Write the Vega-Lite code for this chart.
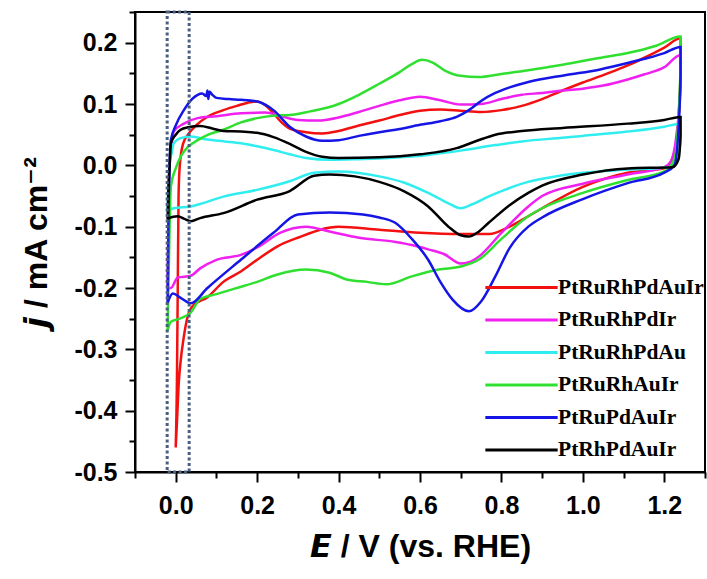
{
  "$schema": "https://vega.github.io/schema/vega-lite/v6.json",
  "width": 570,
  "height": 460,
  "autosize": {"type": "none"},
  "padding": {"left": 135, "top": 12, "right": 2, "bottom": 107},
  "config": {
    "view": {"stroke": "black", "strokeWidth": 2},
    "axis": {"labelFont": "Liberation Sans", "titleFont": "Liberation Sans", "labelFontWeight": "bold", "titleFontWeight": "bold", "labelColor": "black", "titleColor": "black", "domainColor": "black", "tickColor": "black", "domainWidth": 2, "tickWidth": 2, "grid": false},
    "legend": {"orient": "none", "legendX": 369, "legendY": 258, "symbolSize": 1024, "symbolStrokeWidth": 3, "labelFont": "Liberation Serif", "labelFontWeight": "bold", "labelFontSize": 21.5, "labelColor": "black", "labelOffset": 19, "rowPadding": 4.5, "padding": 0, "labelLimit": 300}
  },
  "datasets": {
    "box": [{"x": -0.021, "x2": 0.033, "y": -0.5, "y2": 0.25}],
    "cv": [
      {"s":"PtRuRhPdAuIr","i":1,"E":0.0,"j":-0.46},{"s":"PtRuRhPdAuIr","i":2,"E":0.003,"j":-0.35},{"s":"PtRuRhPdAuIr","i":3,"E":0.005,"j":-0.2},{"s":"PtRuRhPdAuIr","i":4,"E":0.007,"j":-0.05},{"s":"PtRuRhPdAuIr","i":5,"E":0.01,"j":0.0},{"s":"PtRuRhPdAuIr","i":6,"E":0.018,"j":0.035},{"s":"PtRuRhPdAuIr","i":7,"E":0.03,"j":0.05},{"s":"PtRuRhPdAuIr","i":8,"E":0.05,"j":0.065},{"s":"PtRuRhPdAuIr","i":9,"E":0.08,"j":0.08},{"s":"PtRuRhPdAuIr","i":10,"E":0.117,"j":0.09},{"s":"PtRuRhPdAuIr","i":11,"E":0.15,"j":0.097},{"s":"PtRuRhPdAuIr","i":12,"E":0.183,"j":0.103},{"s":"PtRuRhPdAuIr","i":13,"E":0.2,"j":0.104},{"s":"PtRuRhPdAuIr","i":14,"E":0.22,"j":0.098},{"s":"PtRuRhPdAuIr","i":15,"E":0.24,"j":0.085},{"s":"PtRuRhPdAuIr","i":16,"E":0.26,"j":0.07},{"s":"PtRuRhPdAuIr","i":17,"E":0.28,"j":0.06},{"s":"PtRuRhPdAuIr","i":18,"E":0.32,"j":0.054},{"s":"PtRuRhPdAuIr","i":19,"E":0.36,"j":0.052},{"s":"PtRuRhPdAuIr","i":20,"E":0.4,"j":0.056},{"s":"PtRuRhPdAuIr","i":21,"E":0.45,"j":0.065},{"s":"PtRuRhPdAuIr","i":22,"E":0.5,"j":0.073},{"s":"PtRuRhPdAuIr","i":23,"E":0.55,"j":0.082},{"s":"PtRuRhPdAuIr","i":24,"E":0.6,"j":0.089},{"s":"PtRuRhPdAuIr","i":25,"E":0.65,"j":0.091},{"s":"PtRuRhPdAuIr","i":26,"E":0.7,"j":0.089},{"s":"PtRuRhPdAuIr","i":27,"E":0.75,"j":0.087},{"s":"PtRuRhPdAuIr","i":28,"E":0.8,"j":0.09},{"s":"PtRuRhPdAuIr","i":29,"E":0.85,"j":0.097},{"s":"PtRuRhPdAuIr","i":30,"E":0.9,"j":0.108},{"s":"PtRuRhPdAuIr","i":31,"E":0.95,"j":0.122},{"s":"PtRuRhPdAuIr","i":32,"E":1.0,"j":0.135},{"s":"PtRuRhPdAuIr","i":33,"E":1.05,"j":0.147},{"s":"PtRuRhPdAuIr","i":34,"E":1.1,"j":0.16},{"s":"PtRuRhPdAuIr","i":35,"E":1.15,"j":0.175},{"s":"PtRuRhPdAuIr","i":36,"E":1.2,"j":0.192},{"s":"PtRuRhPdAuIr","i":37,"E":1.24,"j":0.207},{"s":"PtRuRhPdAuIr","i":38,"E":1.24,"j":0.15},{"s":"PtRuRhPdAuIr","i":39,"E":1.235,"j":0.08},{"s":"PtRuRhPdAuIr","i":40,"E":1.225,"j":0.02},{"s":"PtRuRhPdAuIr","i":41,"E":1.2,"j":-0.005},{"s":"PtRuRhPdAuIr","i":42,"E":1.11,"j":-0.012},{"s":"PtRuRhPdAuIr","i":43,"E":1.0,"j":-0.035},{"s":"PtRuRhPdAuIr","i":44,"E":0.9,"j":-0.07},{"s":"PtRuRhPdAuIr","i":45,"E":0.866,"j":-0.083},{"s":"PtRuRhPdAuIr","i":46,"E":0.82,"j":-0.1},{"s":"PtRuRhPdAuIr","i":47,"E":0.77,"j":-0.112},{"s":"PtRuRhPdAuIr","i":48,"E":0.7,"j":-0.112},{"s":"PtRuRhPdAuIr","i":49,"E":0.6,"j":-0.11},{"s":"PtRuRhPdAuIr","i":50,"E":0.5,"j":-0.105},{"s":"PtRuRhPdAuIr","i":51,"E":0.4,"j":-0.1},{"s":"PtRuRhPdAuIr","i":52,"E":0.3,"j":-0.118},{"s":"PtRuRhPdAuIr","i":53,"E":0.25,"j":-0.132},{"s":"PtRuRhPdAuIr","i":54,"E":0.2,"j":-0.154},{"s":"PtRuRhPdAuIr","i":55,"E":0.16,"j":-0.173},{"s":"PtRuRhPdAuIr","i":56,"E":0.117,"j":-0.19},{"s":"PtRuRhPdAuIr","i":57,"E":0.078,"j":-0.215},{"s":"PtRuRhPdAuIr","i":58,"E":0.041,"j":-0.23},{"s":"PtRuRhPdAuIr","i":59,"E":0.028,"j":-0.25},{"s":"PtRuRhPdAuIr","i":60,"E":0.02,"j":-0.279},{"s":"PtRuRhPdAuIr","i":61,"E":0.012,"j":-0.32},{"s":"PtRuRhPdAuIr","i":62,"E":0.007,"j":-0.36},{"s":"PtRuRhPdAuIr","i":63,"E":0.003,"j":-0.42},{"s":"PtRuRhPdAuIr","i":64,"E":0.0,"j":-0.46},
      {"s":"PtRuRhPdIr","i":1,"E":-0.02,"j":-0.2},{"s":"PtRuRhPdIr","i":2,"E":-0.018,"j":-0.1},{"s":"PtRuRhPdIr","i":3,"E":-0.015,"j":0.0},{"s":"PtRuRhPdIr","i":4,"E":-0.01,"j":0.035},{"s":"PtRuRhPdIr","i":5,"E":-0.005,"j":0.055},{"s":"PtRuRhPdIr","i":6,"E":0.02,"j":0.068},{"s":"PtRuRhPdIr","i":7,"E":0.054,"j":0.077},{"s":"PtRuRhPdIr","i":8,"E":0.1,"j":0.08},{"s":"PtRuRhPdIr","i":9,"E":0.16,"j":0.085},{"s":"PtRuRhPdIr","i":10,"E":0.22,"j":0.086},{"s":"PtRuRhPdIr","i":11,"E":0.26,"j":0.08},{"s":"PtRuRhPdIr","i":12,"E":0.3,"j":0.074},{"s":"PtRuRhPdIr","i":13,"E":0.35,"j":0.073},{"s":"PtRuRhPdIr","i":14,"E":0.4,"j":0.078},{"s":"PtRuRhPdIr","i":15,"E":0.45,"j":0.087},{"s":"PtRuRhPdIr","i":16,"E":0.5,"j":0.097},{"s":"PtRuRhPdIr","i":17,"E":0.55,"j":0.106},{"s":"PtRuRhPdIr","i":18,"E":0.6,"j":0.112},{"s":"PtRuRhPdIr","i":19,"E":0.65,"j":0.106},{"s":"PtRuRhPdIr","i":20,"E":0.7,"j":0.099},{"s":"PtRuRhPdIr","i":21,"E":0.75,"j":0.1},{"s":"PtRuRhPdIr","i":22,"E":0.8,"j":0.108},{"s":"PtRuRhPdIr","i":23,"E":0.85,"j":0.115},{"s":"PtRuRhPdIr","i":24,"E":0.9,"j":0.118},{"s":"PtRuRhPdIr","i":25,"E":0.95,"j":0.122},{"s":"PtRuRhPdIr","i":26,"E":1.0,"j":0.125},{"s":"PtRuRhPdIr","i":27,"E":1.05,"j":0.13},{"s":"PtRuRhPdIr","i":28,"E":1.11,"j":0.14},{"s":"PtRuRhPdIr","i":29,"E":1.15,"j":0.148},{"s":"PtRuRhPdIr","i":30,"E":1.2,"j":0.16},{"s":"PtRuRhPdIr","i":31,"E":1.24,"j":0.18},{"s":"PtRuRhPdIr","i":32,"E":1.24,"j":0.13},{"s":"PtRuRhPdIr","i":33,"E":1.23,"j":0.05},{"s":"PtRuRhPdIr","i":34,"E":1.215,"j":0.005},{"s":"PtRuRhPdIr","i":35,"E":1.2,"j":-0.003},{"s":"PtRuRhPdIr","i":36,"E":1.11,"j":-0.015},{"s":"PtRuRhPdIr","i":37,"E":1.0,"j":-0.03},{"s":"PtRuRhPdIr","i":38,"E":0.9,"j":-0.05},{"s":"PtRuRhPdIr","i":39,"E":0.866,"j":-0.067},{"s":"PtRuRhPdIr","i":40,"E":0.8,"j":-0.11},{"s":"PtRuRhPdIr","i":41,"E":0.744,"j":-0.149},{"s":"PtRuRhPdIr","i":42,"E":0.72,"j":-0.158},{"s":"PtRuRhPdIr","i":43,"E":0.7,"j":-0.16},{"s":"PtRuRhPdIr","i":44,"E":0.66,"j":-0.145},{"s":"PtRuRhPdIr","i":45,"E":0.62,"j":-0.137},{"s":"PtRuRhPdIr","i":46,"E":0.58,"j":-0.13},{"s":"PtRuRhPdIr","i":47,"E":0.54,"j":-0.125},{"s":"PtRuRhPdIr","i":48,"E":0.45,"j":-0.118},{"s":"PtRuRhPdIr","i":49,"E":0.378,"j":-0.108},{"s":"PtRuRhPdIr","i":50,"E":0.32,"j":-0.1},{"s":"PtRuRhPdIr","i":51,"E":0.256,"j":-0.11},{"s":"PtRuRhPdIr","i":52,"E":0.2,"j":-0.134},{"s":"PtRuRhPdIr","i":53,"E":0.16,"j":-0.146},{"s":"PtRuRhPdIr","i":54,"E":0.1,"j":-0.154},{"s":"PtRuRhPdIr","i":55,"E":0.06,"j":-0.168},{"s":"PtRuRhPdIr","i":56,"E":0.037,"j":-0.18},{"s":"PtRuRhPdIr","i":57,"E":0.005,"j":-0.183},{"s":"PtRuRhPdIr","i":58,"E":-0.012,"j":-0.2},{"s":"PtRuRhPdIr","i":59,"E":-0.02,"j":-0.2},
      {"s":"PtRuRhPdAu","i":1,"E":-0.02,"j":-0.073},{"s":"PtRuRhPdAu","i":2,"E":-0.018,"j":-0.03},{"s":"PtRuRhPdAu","i":3,"E":-0.015,"j":0.0},{"s":"PtRuRhPdAu","i":4,"E":-0.01,"j":0.02},{"s":"PtRuRhPdAu","i":5,"E":-0.005,"j":0.036},{"s":"PtRuRhPdAu","i":6,"E":0.01,"j":0.044},{"s":"PtRuRhPdAu","i":7,"E":0.037,"j":0.047},{"s":"PtRuRhPdAu","i":8,"E":0.078,"j":0.042},{"s":"PtRuRhPdAu","i":9,"E":0.12,"j":0.039},{"s":"PtRuRhPdAu","i":10,"E":0.16,"j":0.036},{"s":"PtRuRhPdAu","i":11,"E":0.2,"j":0.031},{"s":"PtRuRhPdAu","i":12,"E":0.24,"j":0.025},{"s":"PtRuRhPdAu","i":13,"E":0.28,"j":0.018},{"s":"PtRuRhPdAu","i":14,"E":0.32,"j":0.012},{"s":"PtRuRhPdAu","i":15,"E":0.378,"j":0.009},{"s":"PtRuRhPdAu","i":16,"E":0.45,"j":0.01},{"s":"PtRuRhPdAu","i":17,"E":0.5,"j":0.011},{"s":"PtRuRhPdAu","i":18,"E":0.55,"j":0.013},{"s":"PtRuRhPdAu","i":19,"E":0.62,"j":0.017},{"s":"PtRuRhPdAu","i":20,"E":0.7,"j":0.024},{"s":"PtRuRhPdAu","i":21,"E":0.785,"j":0.033},{"s":"PtRuRhPdAu","i":22,"E":0.85,"j":0.039},{"s":"PtRuRhPdAu","i":23,"E":0.95,"j":0.045},{"s":"PtRuRhPdAu","i":24,"E":1.0,"j":0.048},{"s":"PtRuRhPdAu","i":25,"E":1.11,"j":0.055},{"s":"PtRuRhPdAu","i":26,"E":1.2,"j":0.063},{"s":"PtRuRhPdAu","i":27,"E":1.24,"j":0.068},{"s":"PtRuRhPdAu","i":28,"E":1.24,"j":0.04},{"s":"PtRuRhPdAu","i":29,"E":1.23,"j":0.01},{"s":"PtRuRhPdAu","i":30,"E":1.21,"j":-0.003},{"s":"PtRuRhPdAu","i":31,"E":1.11,"j":-0.007},{"s":"PtRuRhPdAu","i":32,"E":1.0,"j":-0.012},{"s":"PtRuRhPdAu","i":33,"E":0.9,"j":-0.022},{"s":"PtRuRhPdAu","i":34,"E":0.866,"j":-0.027},{"s":"PtRuRhPdAu","i":35,"E":0.8,"j":-0.042},{"s":"PtRuRhPdAu","i":36,"E":0.768,"j":-0.051},{"s":"PtRuRhPdAu","i":37,"E":0.73,"j":-0.063},{"s":"PtRuRhPdAu","i":38,"E":0.7,"j":-0.07},{"s":"PtRuRhPdAu","i":39,"E":0.67,"j":-0.062},{"s":"PtRuRhPdAu","i":40,"E":0.62,"j":-0.045},{"s":"PtRuRhPdAu","i":41,"E":0.56,"j":-0.028},{"s":"PtRuRhPdAu","i":42,"E":0.5,"j":-0.018},{"s":"PtRuRhPdAu","i":43,"E":0.4,"j":-0.01},{"s":"PtRuRhPdAu","i":44,"E":0.34,"j":-0.012},{"s":"PtRuRhPdAu","i":45,"E":0.28,"j":-0.026},{"s":"PtRuRhPdAu","i":46,"E":0.2,"j":-0.04},{"s":"PtRuRhPdAu","i":47,"E":0.117,"j":-0.051},{"s":"PtRuRhPdAu","i":48,"E":0.06,"j":-0.063},{"s":"PtRuRhPdAu","i":49,"E":0.037,"j":-0.067},{"s":"PtRuRhPdAu","i":50,"E":-0.005,"j":-0.07},{"s":"PtRuRhPdAu","i":51,"E":-0.02,"j":-0.073},
      {"s":"PtRuRhAuIr","i":1,"E":-0.02,"j":-0.27},{"s":"PtRuRhAuIr","i":2,"E":-0.018,"j":-0.2},{"s":"PtRuRhAuIr","i":3,"E":-0.015,"j":-0.1},{"s":"PtRuRhAuIr","i":4,"E":-0.012,"j":-0.035},{"s":"PtRuRhAuIr","i":5,"E":0.0,"j":-0.005},{"s":"PtRuRhAuIr","i":6,"E":0.012,"j":0.014},{"s":"PtRuRhAuIr","i":7,"E":0.03,"j":0.03},{"s":"PtRuRhAuIr","i":8,"E":0.054,"j":0.041},{"s":"PtRuRhAuIr","i":9,"E":0.08,"j":0.05},{"s":"PtRuRhAuIr","i":10,"E":0.117,"j":0.058},{"s":"PtRuRhAuIr","i":11,"E":0.16,"j":0.07},{"s":"PtRuRhAuIr","i":12,"E":0.2,"j":0.077},{"s":"PtRuRhAuIr","i":13,"E":0.24,"j":0.081},{"s":"PtRuRhAuIr","i":14,"E":0.28,"j":0.082},{"s":"PtRuRhAuIr","i":15,"E":0.33,"j":0.088},{"s":"PtRuRhAuIr","i":16,"E":0.378,"j":0.095},{"s":"PtRuRhAuIr","i":17,"E":0.4,"j":0.1},{"s":"PtRuRhAuIr","i":18,"E":0.45,"j":0.115},{"s":"PtRuRhAuIr","i":19,"E":0.5,"j":0.133},{"s":"PtRuRhAuIr","i":20,"E":0.55,"j":0.152},{"s":"PtRuRhAuIr","i":21,"E":0.58,"j":0.165},{"s":"PtRuRhAuIr","i":22,"E":0.605,"j":0.172},{"s":"PtRuRhAuIr","i":23,"E":0.63,"j":0.168},{"s":"PtRuRhAuIr","i":24,"E":0.66,"j":0.155},{"s":"PtRuRhAuIr","i":25,"E":0.7,"j":0.146},{"s":"PtRuRhAuIr","i":26,"E":0.744,"j":0.144},{"s":"PtRuRhAuIr","i":27,"E":0.8,"j":0.149},{"s":"PtRuRhAuIr","i":28,"E":0.866,"j":0.155},{"s":"PtRuRhAuIr","i":29,"E":0.95,"j":0.164},{"s":"PtRuRhAuIr","i":30,"E":1.04,"j":0.175},{"s":"PtRuRhAuIr","i":31,"E":1.11,"j":0.183},{"s":"PtRuRhAuIr","i":32,"E":1.18,"j":0.195},{"s":"PtRuRhAuIr","i":33,"E":1.24,"j":0.21},{"s":"PtRuRhAuIr","i":34,"E":1.24,"j":0.17},{"s":"PtRuRhAuIr","i":35,"E":1.235,"j":0.08},{"s":"PtRuRhAuIr","i":36,"E":1.225,"j":0.01},{"s":"PtRuRhAuIr","i":37,"E":1.2,"j":-0.01},{"s":"PtRuRhAuIr","i":38,"E":1.11,"j":-0.024},{"s":"PtRuRhAuIr","i":39,"E":1.0,"j":-0.045},{"s":"PtRuRhAuIr","i":40,"E":0.9,"j":-0.07},{"s":"PtRuRhAuIr","i":41,"E":0.866,"j":-0.083},{"s":"PtRuRhAuIr","i":42,"E":0.8,"j":-0.12},{"s":"PtRuRhAuIr","i":43,"E":0.744,"j":-0.154},{"s":"PtRuRhAuIr","i":44,"E":0.7,"j":-0.165},{"s":"PtRuRhAuIr","i":45,"E":0.646,"j":-0.17},{"s":"PtRuRhAuIr","i":46,"E":0.58,"j":-0.181},{"s":"PtRuRhAuIr","i":47,"E":0.517,"j":-0.194},{"s":"PtRuRhAuIr","i":48,"E":0.47,"j":-0.19},{"s":"PtRuRhAuIr","i":49,"E":0.42,"j":-0.186},{"s":"PtRuRhAuIr","i":50,"E":0.378,"j":-0.175},{"s":"PtRuRhAuIr","i":51,"E":0.32,"j":-0.17},{"s":"PtRuRhAuIr","i":52,"E":0.25,"j":-0.178},{"s":"PtRuRhAuIr","i":53,"E":0.2,"j":-0.19},{"s":"PtRuRhAuIr","i":54,"E":0.15,"j":-0.2},{"s":"PtRuRhAuIr","i":55,"E":0.1,"j":-0.21},{"s":"PtRuRhAuIr","i":56,"E":0.06,"j":-0.218},{"s":"PtRuRhAuIr","i":57,"E":0.037,"j":-0.24},{"s":"PtRuRhAuIr","i":58,"E":0.01,"j":-0.25},{"s":"PtRuRhAuIr","i":59,"E":-0.012,"j":-0.255},{"s":"PtRuRhAuIr","i":60,"E":-0.02,"j":-0.27},
      {"s":"PtRuPdAuIr","i":1,"E":-0.02,"j":-0.224},{"s":"PtRuPdAuIr","i":2,"E":-0.018,"j":-0.1},{"s":"PtRuPdAuIr","i":3,"E":-0.015,"j":0.0},{"s":"PtRuPdAuIr","i":4,"E":-0.012,"j":0.041},{"s":"PtRuPdAuIr","i":5,"E":0.0,"j":0.065},{"s":"PtRuPdAuIr","i":6,"E":0.02,"j":0.09},{"s":"PtRuPdAuIr","i":7,"E":0.04,"j":0.108},{"s":"PtRuPdAuIr","i":8,"E":0.054,"j":0.115},{"s":"PtRuPdAuIr","i":9,"E":0.065,"j":0.117},{"s":"PtRuPdAuIr","i":10,"E":0.075,"j":0.113},{"s":"PtRuPdAuIr","i":11,"E":0.078,"j":0.122},{"s":"PtRuPdAuIr","i":12,"E":0.08,"j":0.108},{"s":"PtRuPdAuIr","i":13,"E":0.083,"j":0.12},{"s":"PtRuPdAuIr","i":14,"E":0.09,"j":0.115},{"s":"PtRuPdAuIr","i":15,"E":0.1,"j":0.11},{"s":"PtRuPdAuIr","i":16,"E":0.13,"j":0.108},{"s":"PtRuPdAuIr","i":17,"E":0.16,"j":0.107},{"s":"PtRuPdAuIr","i":18,"E":0.2,"j":0.104},{"s":"PtRuPdAuIr","i":19,"E":0.24,"j":0.09},{"s":"PtRuPdAuIr","i":20,"E":0.28,"j":0.063},{"s":"PtRuPdAuIr","i":21,"E":0.32,"j":0.047},{"s":"PtRuPdAuIr","i":22,"E":0.36,"j":0.04},{"s":"PtRuPdAuIr","i":23,"E":0.4,"j":0.041},{"s":"PtRuPdAuIr","i":24,"E":0.45,"j":0.048},{"s":"PtRuPdAuIr","i":25,"E":0.5,"j":0.054},{"s":"PtRuPdAuIr","i":26,"E":0.54,"j":0.058},{"s":"PtRuPdAuIr","i":27,"E":0.6,"j":0.066},{"s":"PtRuPdAuIr","i":28,"E":0.65,"j":0.072},{"s":"PtRuPdAuIr","i":29,"E":0.69,"j":0.079},{"s":"PtRuPdAuIr","i":30,"E":0.72,"j":0.09},{"s":"PtRuPdAuIr","i":31,"E":0.75,"j":0.105},{"s":"PtRuPdAuIr","i":32,"E":0.785,"j":0.118},{"s":"PtRuPdAuIr","i":33,"E":0.82,"j":0.127},{"s":"PtRuPdAuIr","i":34,"E":0.866,"j":0.136},{"s":"PtRuPdAuIr","i":35,"E":0.956,"j":0.147},{"s":"PtRuPdAuIr","i":36,"E":1.04,"j":0.156},{"s":"PtRuPdAuIr","i":37,"E":1.117,"j":0.168},{"s":"PtRuPdAuIr","i":38,"E":1.2,"j":0.183},{"s":"PtRuPdAuIr","i":39,"E":1.24,"j":0.193},{"s":"PtRuPdAuIr","i":40,"E":1.24,"j":0.15},{"s":"PtRuPdAuIr","i":41,"E":1.235,"j":0.06},{"s":"PtRuPdAuIr","i":42,"E":1.225,"j":0.0},{"s":"PtRuPdAuIr","i":43,"E":1.2,"j":-0.012},{"s":"PtRuPdAuIr","i":44,"E":1.11,"j":-0.029},{"s":"PtRuPdAuIr","i":45,"E":1.0,"j":-0.055},{"s":"PtRuPdAuIr","i":46,"E":0.9,"j":-0.085},{"s":"PtRuPdAuIr","i":47,"E":0.866,"j":-0.1},{"s":"PtRuPdAuIr","i":48,"E":0.82,"j":-0.135},{"s":"PtRuPdAuIr","i":49,"E":0.785,"j":-0.181},{"s":"PtRuPdAuIr","i":50,"E":0.75,"j":-0.222},{"s":"PtRuPdAuIr","i":51,"E":0.72,"j":-0.238},{"s":"PtRuPdAuIr","i":52,"E":0.68,"j":-0.219},{"s":"PtRuPdAuIr","i":53,"E":0.65,"j":-0.19},{"s":"PtRuPdAuIr","i":54,"E":0.62,"j":-0.154},{"s":"PtRuPdAuIr","i":55,"E":0.58,"j":-0.12},{"s":"PtRuPdAuIr","i":56,"E":0.54,"j":-0.094},{"s":"PtRuPdAuIr","i":57,"E":0.5,"j":-0.085},{"s":"PtRuPdAuIr","i":58,"E":0.46,"j":-0.08},{"s":"PtRuPdAuIr","i":59,"E":0.378,"j":-0.077},{"s":"PtRuPdAuIr","i":60,"E":0.3,"j":-0.08},{"s":"PtRuPdAuIr","i":61,"E":0.24,"j":-0.11},{"s":"PtRuPdAuIr","i":62,"E":0.16,"j":-0.154},{"s":"PtRuPdAuIr","i":63,"E":0.078,"j":-0.2},{"s":"PtRuPdAuIr","i":64,"E":0.037,"j":-0.225},{"s":"PtRuPdAuIr","i":65,"E":0.012,"j":-0.216},{"s":"PtRuPdAuIr","i":66,"E":-0.007,"j":-0.209},{"s":"PtRuPdAuIr","i":67,"E":-0.02,"j":-0.224},
      {"s":"PtRhPdAuIr","i":1,"E":-0.02,"j":-0.088},{"s":"PtRhPdAuIr","i":2,"E":-0.018,"j":-0.04},{"s":"PtRhPdAuIr","i":3,"E":-0.015,"j":0.0},{"s":"PtRhPdAuIr","i":4,"E":-0.012,"j":0.036},{"s":"PtRhPdAuIr","i":5,"E":0.0,"j":0.05},{"s":"PtRhPdAuIr","i":6,"E":0.012,"j":0.058},{"s":"PtRhPdAuIr","i":7,"E":0.03,"j":0.062},{"s":"PtRhPdAuIr","i":8,"E":0.06,"j":0.064},{"s":"PtRhPdAuIr","i":9,"E":0.09,"j":0.06},{"s":"PtRhPdAuIr","i":10,"E":0.117,"j":0.056},{"s":"PtRhPdAuIr","i":11,"E":0.16,"j":0.055},{"s":"PtRhPdAuIr","i":12,"E":0.2,"j":0.053},{"s":"PtRhPdAuIr","i":13,"E":0.24,"j":0.046},{"s":"PtRhPdAuIr","i":14,"E":0.28,"j":0.035},{"s":"PtRhPdAuIr","i":15,"E":0.32,"j":0.022},{"s":"PtRhPdAuIr","i":16,"E":0.36,"j":0.014},{"s":"PtRhPdAuIr","i":17,"E":0.4,"j":0.012},{"s":"PtRhPdAuIr","i":18,"E":0.5,"j":0.013},{"s":"PtRhPdAuIr","i":19,"E":0.6,"j":0.018},{"s":"PtRhPdAuIr","i":20,"E":0.69,"j":0.028},{"s":"PtRhPdAuIr","i":21,"E":0.74,"j":0.04},{"s":"PtRhPdAuIr","i":22,"E":0.785,"j":0.05},{"s":"PtRhPdAuIr","i":23,"E":0.85,"j":0.056},{"s":"PtRhPdAuIr","i":24,"E":0.95,"j":0.061},{"s":"PtRhPdAuIr","i":25,"E":1.11,"j":0.068},{"s":"PtRhPdAuIr","i":26,"E":1.2,"j":0.074},{"s":"PtRhPdAuIr","i":27,"E":1.24,"j":0.079},{"s":"PtRhPdAuIr","i":28,"E":1.24,"j":0.05},{"s":"PtRhPdAuIr","i":29,"E":1.235,"j":0.01},{"s":"PtRhPdAuIr","i":30,"E":1.22,"j":-0.003},{"s":"PtRhPdAuIr","i":31,"E":1.11,"j":-0.005},{"s":"PtRhPdAuIr","i":32,"E":1.0,"j":-0.015},{"s":"PtRhPdAuIr","i":33,"E":0.9,"j":-0.033},{"s":"PtRhPdAuIr","i":34,"E":0.866,"j":-0.045},{"s":"PtRhPdAuIr","i":35,"E":0.82,"j":-0.065},{"s":"PtRhPdAuIr","i":36,"E":0.768,"j":-0.094},{"s":"PtRhPdAuIr","i":37,"E":0.74,"j":-0.11},{"s":"PtRhPdAuIr","i":38,"E":0.72,"j":-0.116},{"s":"PtRhPdAuIr","i":39,"E":0.7,"j":-0.114},{"s":"PtRhPdAuIr","i":40,"E":0.67,"j":-0.1},{"s":"PtRhPdAuIr","i":41,"E":0.62,"j":-0.067},{"s":"PtRhPdAuIr","i":42,"E":0.56,"j":-0.042},{"s":"PtRhPdAuIr","i":43,"E":0.5,"j":-0.027},{"s":"PtRhPdAuIr","i":44,"E":0.44,"j":-0.018},{"s":"PtRhPdAuIr","i":45,"E":0.378,"j":-0.015},{"s":"PtRhPdAuIr","i":46,"E":0.34,"j":-0.017},{"s":"PtRhPdAuIr","i":47,"E":0.28,"j":-0.042},{"s":"PtRhPdAuIr","i":48,"E":0.2,"j":-0.056},{"s":"PtRhPdAuIr","i":49,"E":0.117,"j":-0.078},{"s":"PtRhPdAuIr","i":50,"E":0.06,"j":-0.086},{"s":"PtRhPdAuIr","i":51,"E":0.037,"j":-0.091},{"s":"PtRhPdAuIr","i":52,"E":0.02,"j":-0.087},{"s":"PtRhPdAuIr","i":53,"E":0.005,"j":-0.083},{"s":"PtRhPdAuIr","i":54,"E":-0.017,"j":-0.086},{"s":"PtRhPdAuIr","i":55,"E":-0.02,"j":-0.088}
    ]
  },
  "layer": [
    {
      "data": {"name": "cv"},
      "mark": {"type": "line", "strokeWidth": 2.5, "interpolate": "monotone"},
      "encoding": {
        "x": {"field": "E", "type": "quantitative", "scale": {"domain": [-0.1, 1.3], "nice": false, "zero": false},
          "axis": {"orient": "bottom", "values": [0, 0.2, 0.4, 0.6, 0.8, 1.0, 1.2], "format": ".1f", "tickSize": 10, "labelFontSize": 25, "labelPadding": 11, "title": "𝙀 / V (vs. RHE)", "titleFontSize": 32, "titlePadding": 13}},
        "y": {"field": "j", "type": "quantitative", "scale": {"domain": [-0.5, 0.25], "nice": false, "zero": false},
          "axis": {"orient": "left", "values": [-0.5, -0.4, -0.3, -0.2, -0.1, 0, 0.1, 0.2], "labelExpr": "replace(format(datum.value, '.1f'), '−', '-')", "tickSize": 10, "labelFontSize": 25, "labelPadding": 8, "title": "𝙟 / mA cm⁻²", "titleFontSize": 32, "titlePadding": 20}},
        "color": {"field": "s", "type": "nominal", "title": null,
          "legend": {"symbolType": "M-2.26,0H2.26"},
          "scale": {"domain": ["PtRuRhPdAuIr", "PtRuRhPdIr", "PtRuRhPdAu", "PtRuRhAuIr", "PtRuPdAuIr", "PtRhPdAuIr"], "range": ["#f21010", "#f020f0", "#30eef0", "#30e030", "#1515e6", "#000000"]}},
        "order": {"field": "i", "type": "quantitative"}
      }
    },
    {
      "data": {"name": "box"},
      "mark": {"type": "rect", "fill": null, "fillOpacity": 0, "stroke": "#4a5f80", "strokeWidth": 3, "strokeDash": [3, 2.5]},
      "encoding": {
        "x": {"field": "x", "type": "quantitative",
          "axis": {"orient": "bottom", "values": [-0.1, 0.1, 0.3, 0.5, 0.7, 0.9, 1.1, 1.3], "tickSize": 6, "labels": false, "domain": false, "title": null}},
        "x2": {"field": "x2"},
        "y": {"field": "y", "type": "quantitative",
          "axis": {"orient": "left", "values": [-0.45, -0.35, -0.25, -0.15, -0.05, 0.05, 0.15, 0.25], "tickSize": 6, "labels": false, "domain": false, "title": null}},
        "y2": {"field": "y2"}
      }
    }
  ],
  "resolve": {"axis": {"x": "independent", "y": "independent"}}
}
